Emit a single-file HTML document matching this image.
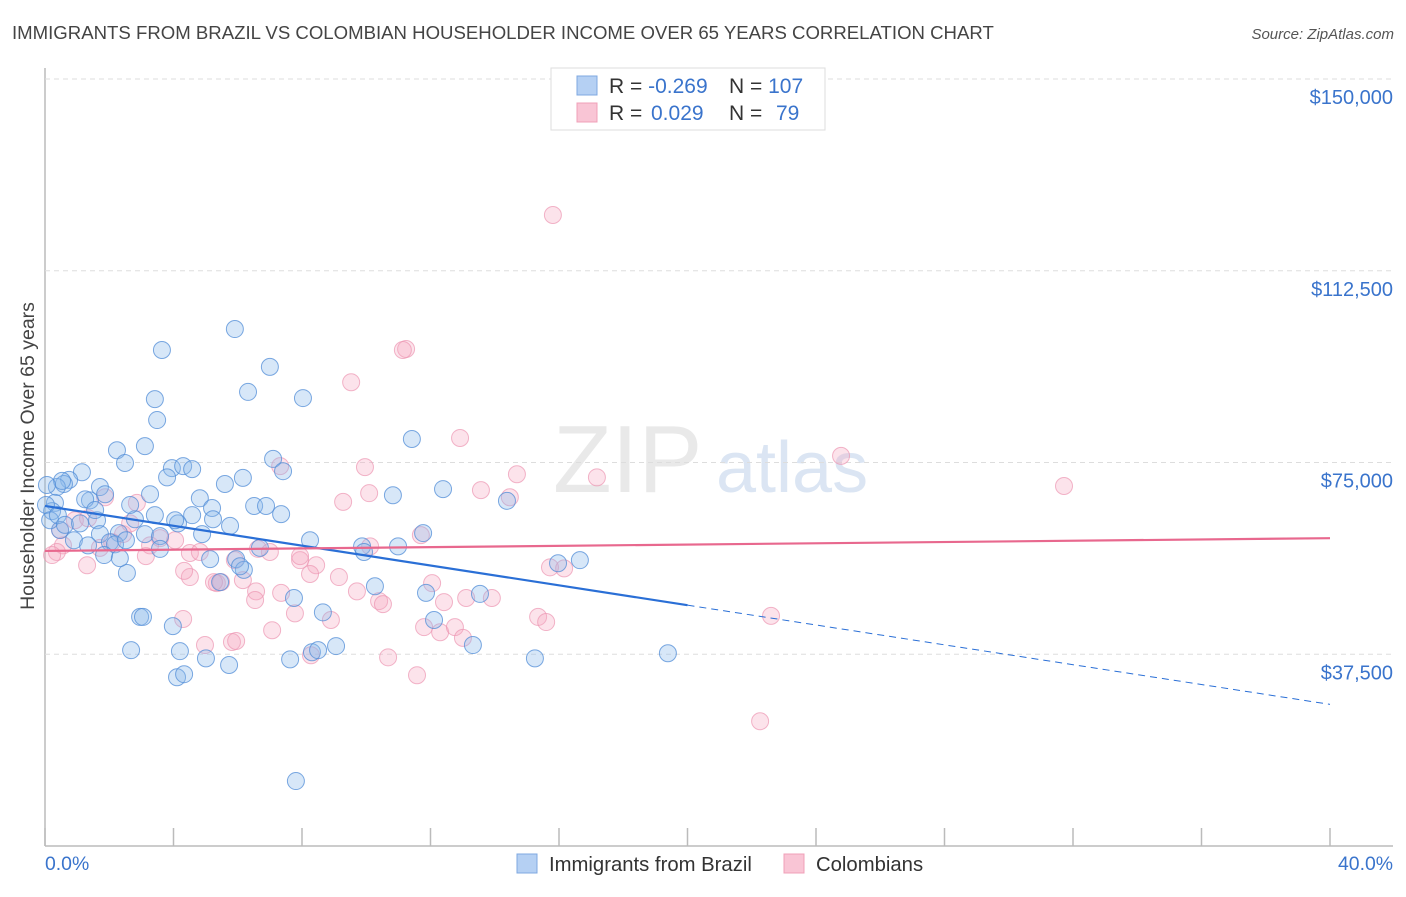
<!DOCTYPE html>
<html><head><meta charset="utf-8"><style>
body{margin:0;background:#fff;font-family:"Liberation Sans",sans-serif}
svg text{font-family:"Liberation Sans",sans-serif}
</style></head><body>
<svg id="c" width="1406" height="892">
<text x="12" y="39" font-size="18.6" fill="#444">IMMIGRANTS FROM BRAZIL VS COLOMBIAN HOUSEHOLDER INCOME OVER 65 YEARS CORRELATION CHART</text>
<text x="1394" y="39" font-size="15" fill="#555" font-style="italic" text-anchor="end">Source: ZipAtlas.com</text>
<g opacity="0.5">
<text x="553" y="492" font-size="96" font-family="Liberation Serif" fill="#d4d4d4">ZIP</text>
<text x="716" y="492" font-size="72" fill="#b8cde8">atlas</text>
</g>
<text transform="translate(34,456) rotate(-90)" font-size="19.5" fill="#444" text-anchor="middle">Householder Income Over 65 years</text>
<g id="grid"></g>
<g id="pts"></g>
<g id="lines"></g>
<g>
<rect x="551" y="68" width="274" height="62" fill="#fff" stroke="#ddd"/>
<rect x="577" y="76" width="20" height="19" fill="#b5d0f3" stroke="#7fa8e0"/>
<rect x="577" y="103" width="20" height="19" fill="#f9c5d5" stroke="#f0a0b8"/>
<text x="609" y="93" font-size="21" fill="#333">R = <tspan fill="#3a74cc">-0.269</tspan></text>
<text x="729" y="93" font-size="21" fill="#333">N = <tspan fill="#3a74cc">107</tspan></text>
<text x="609" y="120" font-size="21" fill="#333">R = <tspan fill="#3a74cc" x="651">0.029</tspan></text>
<text x="729" y="120" font-size="21" fill="#333">N = <tspan fill="#3a74cc" x="776">79</tspan></text>
</g>
<g>
<rect x="517" y="854" width="20" height="19" fill="#b5d0f3" stroke="#7fa8e0"/>
<text x="549" y="871" font-size="20.3" fill="#333">Immigrants from Brazil</text>
<rect x="784" y="854" width="20" height="19" fill="#f9c5d5" stroke="#f0a0b8"/>
<text x="816" y="871" font-size="20.3" fill="#333">Colombians</text>
</g>
</svg>
<script>
const yTicks=[37500,75000,112500,150000];
const yTickLabels=["$37,500","$75,000","$112,500","$150,000"];
const xTickVals=[0,4,8,12,16,20,24,28,32,36,40];
const xEndLabels=["0.0%","40.0%"];
const blueX=[5.91,3.64,7.00,6.32,3.42,8.03,3.49,11.42,2.24,3.11,2.49,1.15,7.10,7.41,3.95,4.30,4.58,6.16,3.80,0.75,0.59,0.37,0.53,1.71,12.39,3.27,1.40,4.82,5.60,10.83,14.38,1.25,0.31,0.22,6.51,6.88,5.20,7.35,4.58,1.62,5.76,5.23,4.14,2.80,0.47,0.90,1.71,2.30,3.11,3.58,4.89,11.77,1.34,2.02,2.18,2.52,6.69,9.87,10.99,9.93,1.84,3.58,5.95,16.65,15.97,2.55,10.27,6.19,5.45,11.86,13.54,7.75,8.65,2.96,3.05,3.98,12.11,4.20,2.68,5.01,5.73,7.63,8.31,8.50,9.06,13.32,15.25,19.39,4.11,4.33,7.81,0.06,0.03,0.16,0.40,0.62,1.09,1.56,1.87,2.65,3.42,4.05,5.14,2.33,6.07,8.25];
const blueY=[101.1,97.0,93.7,88.8,87.4,87.6,83.3,79.6,77.4,78.2,74.9,73.1,75.7,73.3,73.9,74.3,73.7,72.0,72.1,71.6,70.8,70.2,71.4,70.2,69.8,68.8,67.6,68.0,70.8,68.6,67.5,67.8,67.1,65.5,66.5,66.5,66.1,64.9,64.7,63.7,62.6,63.9,63.1,63.9,61.8,59.8,61.0,61.2,61.0,60.6,61.0,61.2,58.8,59.4,59.0,59.8,58.3,58.6,58.6,57.5,56.9,58.1,56.1,55.9,55.3,53.4,50.8,54.0,51.6,49.5,49.3,48.5,45.7,44.8,44.8,43.0,44.2,38.1,38.3,36.7,35.4,36.5,37.9,38.3,39.1,39.3,36.7,37.7,33.0,33.6,12.7,70.6,66.7,63.7,64.7,62.8,63.1,65.7,68.8,66.7,64.7,63.7,56.1,56.3,54.7,59.8];
const pinkX=[15.81,11.24,11.14,9.53,12.92,24.78,31.72,9.96,7.32,14.69,17.18,13.57,14.47,9.28,10.09,2.86,1.87,11.70,6.63,7.94,8.44,7.94,5.91,7.00,4.51,4.82,3.27,4.05,3.58,2.43,0.56,0.47,0.93,1.34,2.65,2.09,1.71,1.31,0.37,0.22,3.14,10.12,8.25,9.15,4.51,4.33,5.35,5.48,6.16,6.57,5.26,7.35,6.54,9.71,10.40,10.52,12.05,13.11,13.91,12.42,15.72,16.16,15.35,15.60,22.60,7.78,8.90,4.30,11.80,12.30,12.76,13.01,4.98,5.82,5.95,7.07,8.28,10.68,11.58,22.26];
const pinkY=[123.4,97.2,97.0,90.7,79.8,76.3,70.4,74.1,74.3,72.7,72.1,69.6,68.2,67.3,69.0,67.1,68.2,60.8,58.1,55.9,54.9,56.7,55.9,57.5,57.3,57.5,58.8,59.8,60.2,61.0,58.8,61.8,63.7,64.1,63.1,59.4,58.3,54.9,57.5,56.9,56.7,58.6,53.2,52.6,52.6,53.8,51.4,51.6,52.0,49.8,51.6,49.5,48.1,49.8,47.9,47.3,51.4,48.5,48.5,47.7,54.5,54.3,44.8,43.8,45.0,45.5,44.2,44.4,42.8,41.8,42.8,40.7,39.3,39.9,40.1,42.2,37.3,36.9,33.4,24.4];
const blueTrend=[66.5,47.1,27.7]; // at 0%,20%,40% (thousands)
const pinkTrend=[57.7,60.2]; // at 0%,40%
const NS="http://www.w3.org/2000/svg";
const X0=45,X1=1330,Ytop=79,Ybot=846;
const xs=v=>X0+v/40*(X1-X0);
const ys=v=>Ybot-v/150000*(Ybot-Ytop);
const yk=v=>ys(v*1000);
function mk(tag,attrs,parent){const e=document.createElementNS(NS,tag);for(const k in attrs)e.setAttribute(k,attrs[k]);parent.appendChild(e);return e;}
const grid=document.getElementById('grid');
mk('line',{x1:X0,y1:68,x2:X0,y2:Ybot,stroke:'#bbb','stroke-width':1.5},grid);
mk('line',{x1:X0,y1:Ybot,x2:1393,y2:Ybot,stroke:'#bbb','stroke-width':1.5},grid);
yTicks.forEach((v,i)=>{
 const g=mk('line',{x1:X0,y1:ys(v),x2:1393,y2:ys(v),stroke:'#ddd','stroke-dasharray':'5,4'},grid);
 
 
 const t=mk('text',{x:1393,y:ys(v)+25,'text-anchor':'end','font-size':20,fill:'#3a74cc'},grid);
 t.textContent=yTickLabels[i];
 
 
});
xTickVals.forEach(v=>{
 const l=mk('line',{x1:xs(v),y1:Ybot-18,x2:xs(v),y2:Ybot,stroke:'#bbb','stroke-width':1.5},grid);
 
 
});
const xl0=mk('text',{x:45,y:870,'font-size':19.4,fill:'#3a74cc'},grid);xl0.textContent=xEndLabels[0];


const xl1=mk('text',{x:1393,y:870,'font-size':19.4,fill:'#3a74cc','text-anchor':'end'},grid);xl1.textContent=xEndLabels[1];


const pts=document.getElementById('pts');
pinkX.forEach((x,i)=>{
 const c=mk('circle',{cx:xs(x),cy:yk(pinkY[i]),r:8.5,fill:'rgba(246,168,192,0.32)',stroke:'rgba(236,150,178,0.7)','stroke-width':1},pts);
 
 
});
blueX.forEach((x,i)=>{
 const c=mk('circle',{cx:xs(x),cy:yk(blueY[i]),r:8.5,fill:'rgba(140,185,235,0.35)',stroke:'rgba(80,140,215,0.75)','stroke-width':1},pts);
 
 
});
const lines=document.getElementById('lines');
const b1=mk('line',{x1:xs(0),y1:yk(blueTrend[0]),x2:xs(20),y2:yk(blueTrend[1]),stroke:'#2a6fd6','stroke-width':2.2},lines);


const b2=mk('line',{x1:xs(20),y1:yk(blueTrend[1]),x2:xs(40),y2:yk(blueTrend[2]),stroke:'#2a6fd6','stroke-width':1,'stroke-dasharray':'7,5'},lines);


const p1=mk('line',{x1:xs(0),y1:yk(pinkTrend[0]),x2:xs(40),y2:yk(pinkTrend[1]),stroke:'#e8688e','stroke-width':2.2},lines);


</script>
</body></html>
